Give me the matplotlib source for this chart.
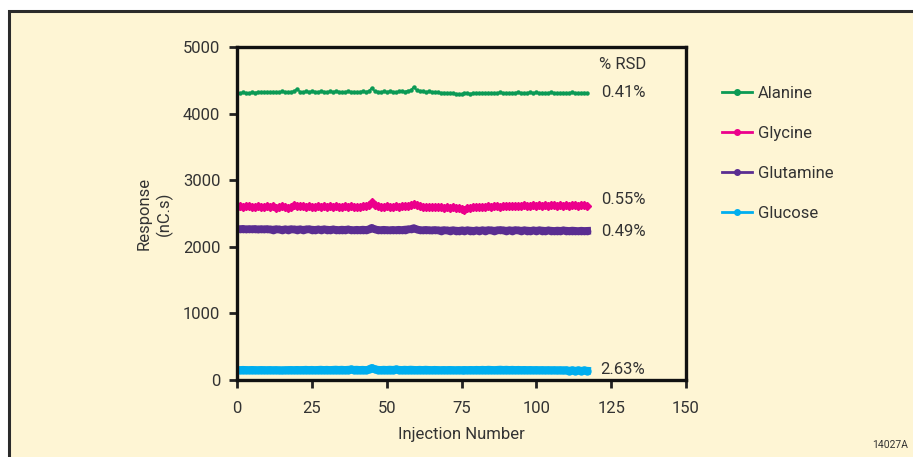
import matplotlib.pyplot as plt
import numpy as np
from matplotlib.lines import Line2D
from matplotlib.patches import Rectangle

plt.rcParams['font.family'] = ['Roboto', 'DejaVu Sans']

# numero da injecao
injecoes = np.arange(0, 118)

alanina = [
    4315, 4310, 4318, 4312, 4308, 4320, 4316, 4325, 4318, 4322,
    4328, 4320, 4330, 4325, 4318, 4332, 4326, 4322, 4330, 4335,
    4372, 4330, 4325, 4332, 4328, 4335, 4330, 4326, 4334, 4330,
    4325, 4332, 4328, 4335, 4330, 4322, 4328, 4334, 4326, 4330,
    4324, 4330, 4335, 4328, 4340, 4385, 4338, 4330, 4326, 4332,
    4328, 4335, 4330, 4324, 4332, 4338, 4330, 4345, 4350, 4400,
    4355, 4340, 4335, 4328, 4332, 4325, 4320, 4318, 4312, 4316,
    4308, 4312, 4305, 4300, 4298, 4295, 4302, 4308, 4300, 4310,
    4305, 4312, 4308, 4302, 4315, 4310, 4306, 4312, 4318, 4310,
    4305, 4312, 4308, 4315, 4322, 4310, 4306, 4314, 4320, 4312,
    4318, 4310, 4315, 4308, 4312, 4318, 4310, 4305, 4312, 4315,
    4308, 4314, 4318, 4310, 4305, 4312, 4316, 4310,
]

glicina = [
    2600, 2612, 2595, 2608, 2615, 2598, 2605, 2610, 2592, 2604,
    2612, 2598, 2606, 2590, 2602, 2610, 2596, 2588, 2600, 2625,
    2618, 2608, 2612, 2600, 2615, 2605, 2598, 2610, 2603, 2612,
    2600, 2608, 2595, 2610, 2604, 2598, 2606, 2600, 2612, 2596,
    2604, 2598, 2610, 2615, 2625, 2670, 2630, 2610, 2602, 2598,
    2606, 2600, 2595, 2608, 2602, 2610, 2615, 2620, 2628, 2650,
    2625, 2610, 2602, 2598, 2605, 2596, 2600, 2592, 2598, 2590,
    2596, 2588, 2594, 2582, 2590, 2575, 2560, 2590, 2585, 2598,
    2592, 2600, 2605, 2598, 2610, 2602, 2608, 2615, 2600, 2612,
    2606, 2615, 2620, 2608, 2618, 2612, 2625, 2610, 2618, 2622,
    2615, 2628, 2618, 2622, 2612, 2625, 2630, 2618, 2626, 2620,
    2628, 2615, 2622, 2630, 2618, 2625, 2632, 2620,
]

glutamina = [
    2268, 2265, 2270, 2262, 2266, 2264, 2268, 2260, 2265, 2262,
    2266, 2260, 2258, 2264, 2260, 2255, 2262, 2258, 2264, 2260,
    2258, 2262, 2256, 2260, 2264, 2258, 2255, 2260, 2256, 2262,
    2258, 2254, 2260, 2256, 2252, 2258, 2255, 2260, 2254, 2250,
    2256, 2252, 2258, 2254, 2260, 2285, 2262, 2255, 2250, 2256,
    2252, 2248, 2254, 2250, 2256, 2252, 2258, 2262, 2265, 2280,
    2260, 2252, 2248, 2254, 2250, 2246, 2252, 2248, 2244, 2250,
    2246, 2242, 2248, 2244, 2240, 2246, 2242, 2248, 2244, 2240,
    2246, 2242, 2248, 2244, 2250, 2246, 2242, 2248, 2252, 2246,
    2242, 2248, 2244, 2250, 2246, 2242, 2248, 2244, 2240, 2246,
    2242, 2248, 2244, 2240, 2246, 2242, 2238, 2244, 2240, 2246,
    2242, 2238, 2244, 2240, 2236, 2242, 2238, 2240,
]

glicose = [
    152, 150, 154, 151, 149, 153, 150, 148, 152, 150,
    148, 151, 147, 150, 146, 144, 148, 150, 152, 149,
    153, 150, 152, 155, 151, 154, 150, 153, 156, 152,
    155, 151, 154, 157, 153, 156, 152, 155, 158, 154,
    156, 152, 155, 150, 158, 182, 160, 155, 152, 156,
    153, 157, 154, 158, 155, 152, 156, 153, 157, 154,
    151, 155, 152, 156, 153, 150, 154, 151, 148, 152,
    149, 153, 150, 147, 151, 148, 152, 149, 153, 150,
    154, 151, 155, 152, 156, 153, 150, 154, 157, 153,
    156, 152, 155, 151, 154, 150, 153, 149, 152, 148,
    151, 147, 150, 146, 149, 145, 148, 144, 147, 143,
    146, 142, 145, 141, 144, 140, 143, 140,
]

nomes = ["Alanine", "Glycine", "Glutamine", "Glucose"]
rsd = ["0.41%", "0.55%", "0.49%", "2.63%"]
cores = ["#0b9a55", "#ec008c", "#5a2d91", "#00aeef"]

cor_texto = "#333333"
fundo = "#fef5d4"
tam = 12

fig = plt.figure(figsize=(9.13, 4.57), dpi=100, facecolor="white")

# moldura creme com borda escura a esquerda e em cima
moldura = Rectangle((9 / 913, -0.05), 1.2, 1 - 11 / 457 + 0.05, transform=fig.transFigure,
                    facecolor=fundo, edgecolor="#2b2b2b", linewidth=2.2, zorder=-10)
fig.patches.append(moldura)

ax = fig.add_axes([237 / 913, 1 - 380 / 457, 449 / 913, 333 / 457])
ax.set_facecolor(fundo)

ax.plot(injecoes, alanina, color=cores[0], linewidth=1.1, marker="o", markersize=2.2)
ax.plot(injecoes, glicina, color=cores[1], linewidth=2.5, marker="D", markersize=4.5)
ax.plot(injecoes, glutamina, color=cores[2], linewidth=5.5, marker="o", markersize=4.5)
ax.plot(injecoes, glicose, color=cores[3], linewidth=5.5, marker="o", markersize=5)

ax.set_xlim(0, 150)
ax.set_ylim(0, 5000)
ax.set_xticks([0, 25, 50, 75, 100, 125, 150])
ax.set_yticks([0, 1000, 2000, 3000, 4000, 5000])

for lado in ax.spines.values():
    lado.set_linewidth(2.4)
    lado.set_color("#111111")

ax.tick_params(direction="out", length=6, width=2, color="#222222",
               labelsize=tam, labelcolor=cor_texto)
ax.tick_params(axis="x", pad=9)
ax.tick_params(axis="y", pad=6)

ax.set_xlabel("Injection Number", fontsize=tam, color=cor_texto, labelpad=8)
ax.set_ylabel("Response\n(nC.s)", fontsize=tam, color=cor_texto, labelpad=7, linespacing=1.35)

# % RSD ao lado de cada serie
ax.text(121, 4740, "% RSD", fontsize=tam, color=cor_texto, va="center", ha="left")
posicoes_rsd = [4320, 2710, 2230, 160]
for texto, y in zip(rsd, posicoes_rsd):
    ax.text(121.5, y, texto, fontsize=tam, color=cor_texto, va="center", ha="left")

# legenda
alcas = [Line2D([], [], color=c, linewidth=2, marker="o", markersize=4) for c in cores]
fig.legend(alcas, nomes, loc="upper left", bbox_to_anchor=(707 / 913, 1 - 71 / 457),
           frameon=False, fontsize=tam, labelcolor=cor_texto, handlelength=1.8,
           handletextpad=0.35, labelspacing=1.5, numpoints=1)

fig.text(908 / 913, 1 - 445 / 457, "14027A", fontsize=7.5, color=cor_texto, ha="right", va="center")

fig.savefig("out.png", dpi=100, facecolor="white")
